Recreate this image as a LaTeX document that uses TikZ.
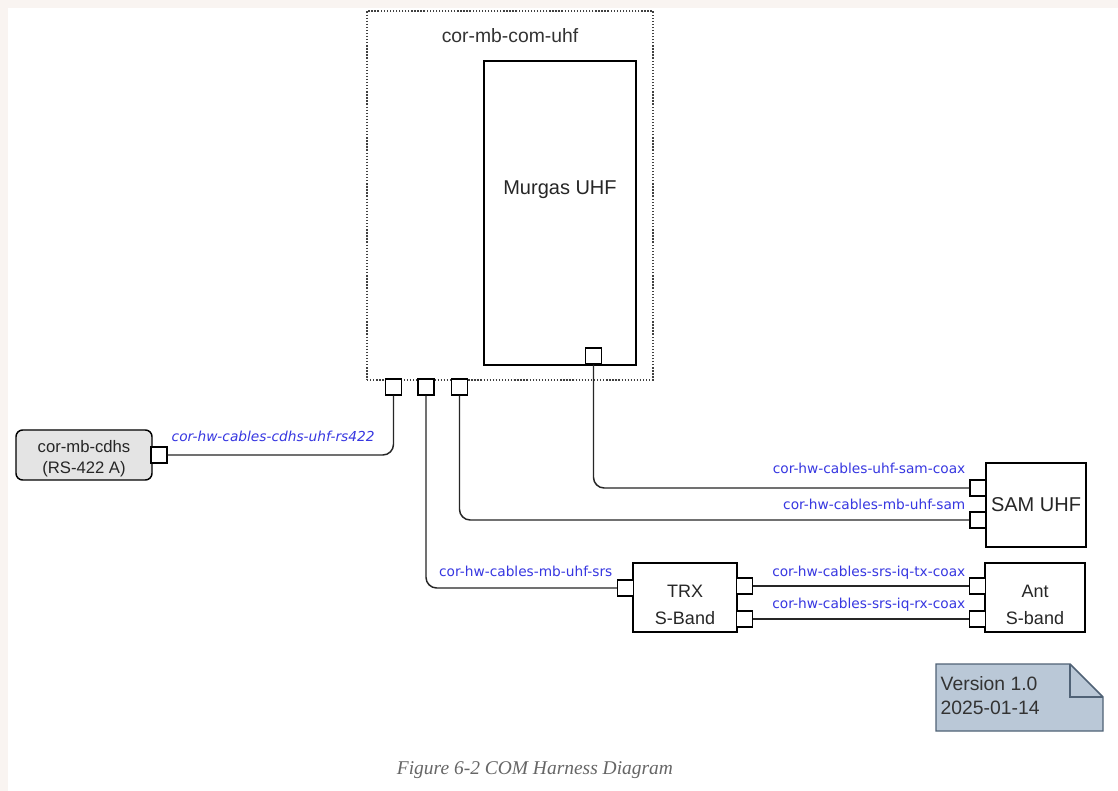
\documentclass[tikz,border=0pt]{standalone}
\usepackage{fontspec}
\setmainfont{Liberation Sans}
\newfontfamily\cablefont{DejaVu Sans}
\newfontfamily\capfont{Liberation Serif}
\usetikzlibrary{positioning}
\definecolor{cablelbl}{RGB}{55,55,225}
\definecolor{notefill}{RGB}{186,200,215}
\definecolor{notedraw}{RGB}{80,98,118}
\definecolor{pagetint}{RGB}{249,244,241}
\definecolor{cdhsfill}{RGB}{228,228,228}

\begin{document}
\begin{tikzpicture}[x=0.75pt,y=-0.75pt,line width=1.1pt,
  unit/.style={draw,fill=white,inner sep=0pt,align=center,text=black!85,font=\fontsize{15}{18}\selectfont},
  port/.style={draw,fill=white,minimum size=12pt,inner sep=0pt},
  cable/.style={draw=black!85,rounded corners=8pt},
  cablelabel/.style={text=cablelbl,inner sep=0pt,font=\cablefont\fontsize{10.3}{12}\selectfont}]
  \fill[pagetint] (0,0) rectangle (1118,791);
  \fill[white] (8,8) rectangle (1118,791);

  \node[draw=black!75,line width=1.1pt,dash pattern=on 1pt off 1.3pt,minimum width=214.5pt,minimum height=276.75pt] (com) at (510,195.5) {};
  \node[text=black!80,font=\fontsize{14.5}{17}\selectfont] (comlbl) at (510,36) {cor-mb-com-uhf};
  \node[unit,minimum width=114pt,minimum height=228pt] (murgas) at (560,213) {};
  \node[text=black!85,font=\fontsize{15}{18}\selectfont] (murgaslbl) at (560,190) {Murgas UHF};
  \node[port] (mport) at (593.5,356) {};
  \foreach \i/\x in {1/393.5,2/426,3/459.5}
    \node[port] (cport\i) at (\x,387) {};

  \node[unit,rounded corners=5pt,fill=cdhsfill,minimum width=102pt,minimum height=37.5pt,font=\fontsize{12.5}{16}\selectfont] (cdhs) at (84,455) {\rule{0pt}{15pt}cor-mb-cdhs\\(RS-422 A)};
  \node[port] (cdhsport) at (159,455) {};

  \node[unit,minimum width=75pt,minimum height=63pt] (sam) at (1036,505) {SAM UHF};
  \node[port] (samport1) at (978,488) {};
  \node[port] (samport2) at (978,520) {};

  \node[unit,minimum width=78pt,minimum height=52pt,font=\fontsize{13.5}{20.5}\selectfont] (trx) at (685,597.5) {\rule{0pt}{20pt}TRX\\S-Band};
  \node[port] (trxin) at (625.5,588) {};
  \node[port] (trxtx) at (744.5,586) {};
  \node[port] (trxrx) at (744.5,619) {};

  \node[unit,minimum width=75pt,minimum height=52pt,font=\fontsize{13.5}{20.5}\selectfont] (ant) at (1035,597.5) {\rule{0pt}{20pt}Ant\\S-band};
  \node[port] (anttx) at (977.5,586) {};
  \node[port] (antrx) at (977.5,619) {};

  \draw[cable] (cport1.south) |- (cdhsport.east);
  \draw[cable] (mport.south) |- (samport1.west);
  \draw[cable] (cport3.south) |- (samport2.west);
  \draw[cable] (cport2.south) |- (trxin.west);
  \draw[cable] (trxtx.east) -- (anttx.west);
  \draw[cable] (trxrx.east) -- (antrx.west);

  \node[cablelabel,font=\cablefont\itshape\fontsize{10.3}{12}\selectfont,anchor=base west] (lblcdhs) at (171,442) {cor-hw-cables-cdhs-uhf-rs422};
  \node[cablelabel,anchor=base east] (lblsamcoax) at (966,474) {cor-hw-cables-uhf-sam-coax};
  \node[cablelabel,anchor=base east] (lblsam) at (966,509) {cor-hw-cables-mb-uhf-sam};
  \node[cablelabel,anchor=base east] (lblsrs) at (613,576) {cor-hw-cables-mb-uhf-srs};
  \node[cablelabel,anchor=base east] (lbltx) at (966,576) {cor-hw-cables-srs-iq-tx-coax};
  \node[cablelabel,anchor=base east] (lblrx) at (966,609) {cor-hw-cables-srs-iq-rx-coax};

  \filldraw[fill=notefill,draw=notedraw] (936,664) -- (1070,664) -- (1103,697) -- (1103,731) -- (936,731) -- cycle;
  \draw[notedraw] (1070,664) |- (1103,697);
  \node[anchor=north west,align=left,inner sep=0pt,text=black!80,font=\fontsize{14.5}{18}\selectfont] (note) at (940,676) {Version 1.0\\2025-01-14};

  \node[text=black!60,font=\capfont\itshape\fontsize{14.6}{16}\selectfont] (caption) at (535,770) {Figure 6-2 COM Harness Diagram};
\end{tikzpicture}
\end{document}
